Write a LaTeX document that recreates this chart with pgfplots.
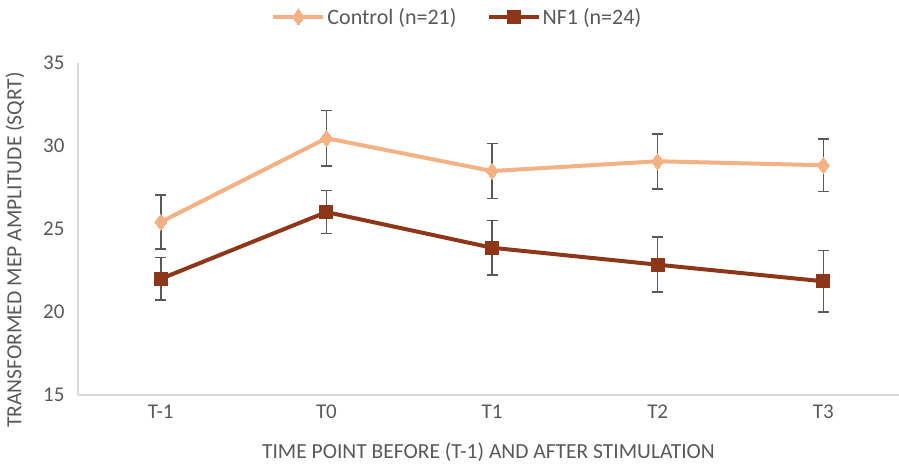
\documentclass[border=0pt]{standalone}
\usepackage{pgfplots}
\pgfplotsset{compat=1.18}
\usepackage{fontspec}
\setmainfont{Carlito}
\definecolor{ctrl}{HTML}{F4B183}
\definecolor{nfone}{HTML}{8E3618}
\definecolor{txt}{HTML}{595959}
\definecolor{axl}{HTML}{D9D9D9}
\begin{document}
\begin{tikzpicture}
\path[use as bounding box] (0,0) rectangle (899pt,465pt);
\begin{axis}[
  at={(78pt,70pt)}, anchor=south west,
  scale only axis, width=821pt, height=332pt,
  xmin=-0.5, xmax=4.457, ymin=15, ymax=35,
  xtick={0,1,2,3,4}, xticklabels={T-1,T0,T1,T2,T3},
  ytick={15,20,25,30,35},
  axis x line*=bottom, axis y line*=left,
  axis line style={axl, line width=1.5pt, -},
  major tick length=0pt,
  tick label style={font=\fontsize{21}{23}\selectfont, text=txt},
  /pgf/number format/assume math mode=true,
  xticklabel style={yshift=-6pt},
  yticklabel style={xshift=-10pt},
  xlabel={TIME POINT BEFORE (T-1) AND AFTER STIMULATION},
  ylabel={TRANSFORMED MEP AMPLITUDE (SQRT)},
  xlabel style={font=\fontsize{21.5}{23}\selectfont, text=txt, at={(axis description cs:0.5,0)}, anchor=north, yshift=-44pt},
  ylabel style={font=\fontsize{21.6}{23}\selectfont, text=txt, at={(axis description cs:0,0.437)}, anchor=south, yshift=50pt},
  legend columns=2,
  legend style={at={(0.462,1.139)}, anchor=center, draw=none, fill=none,
    font=\fontsize{22}{24}\selectfont, text=txt,
    /tikz/every even column/.append style={column sep=28pt}},
  legend image code/.code={\draw[mark repeat=2, mark phase=2] plot coordinates {(0pt,0pt) (25pt,0pt) (50pt,0pt)};},
  clip=false,
]
\addplot[ctrl, line width=4pt, mark=diamond*, mark size=8pt, mark options={solid, line width=0pt, fill=ctrl},
  error bars/.cd, y dir=both, y explicit,
  error bar style={line width=1.6pt, color=txt},
  error mark options={rotate=90, mark size=5.5pt, line width=1.6pt, color=txt}]
coordinates {
(0,25.42) +- (0,1.62)
(1,30.47) +- (0,1.66)
(2,28.49) +- (0,1.65)
(3,29.08) +- (0,1.66)
(4,28.84) +- (0,1.58)
};
\addlegendentry{Control (n=21)}
\addplot[nfone, line width=4pt, mark=square*, mark size=6.5pt, mark options={solid, line width=0pt, fill=nfone},
  error bars/.cd, y dir=both, y explicit,
  error bar style={line width=1.6pt, color=txt},
  error mark options={rotate=90, mark size=5.5pt, line width=1.6pt, color=txt}]
coordinates {
(0,22.00) +- (0,1.28)
(1,26.02) +- (0,1.29)
(2,23.87) +- (0,1.65)
(3,22.85) +- (0,1.65)
(4,21.85) +- (0,1.85)
};
\addlegendentry{NF1 (n=24)}
\end{axis}
\end{tikzpicture}
\end{document}
